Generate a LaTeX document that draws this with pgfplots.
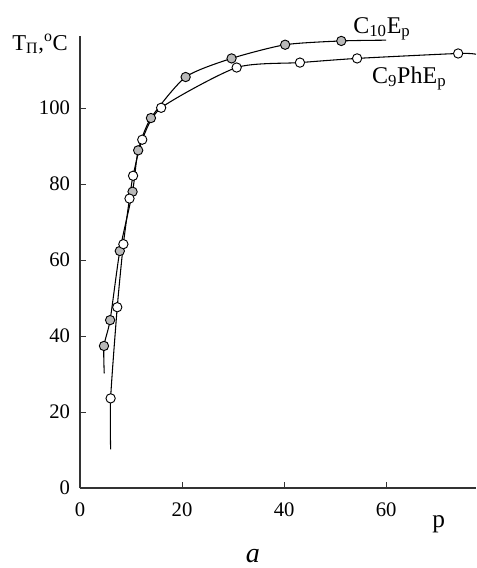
\documentclass[border=0pt]{standalone}
\usepackage{fontspec}
\setmainfont{Liberation Serif}
\usepackage{pgfplots}
\pgfplotsset{compat=1.18}
\definecolor{dotgray}{RGB}{185,185,185}

\begin{document}
\begin{tikzpicture}
\begin{axis}[
  name=ax,
  scale only axis,
  width=297pt, height=339pt,
  xmin=0, xmax=77.6, ymin=0, ymax=119,
  axis x line=bottom, axis y line=left,
  axis line style={-, line width=1.1pt, black!80},
  xtick={0,20,40,60}, ytick={0,20,40,60,80,100},
  tick align=inside, major tick length=4.5pt,
  tick style={line width=0.8pt, black!80},
  /pgf/number format/assume math mode=true,
  ticklabel style={font=\fontsize{15.5}{16}\selectfont},
  xticklabel style={yshift=-7.5pt},
  yticklabel style={xshift=-4pt},
  clip=false,
]
  % fitted curves
  \addplot[black, line width=0.8pt, smooth, tension=0.4] coordinates {
    (4.75,30.2) (4.7,37.4) (5.9,44.2) (7.8,62.4) (10.3,78.0) (11.4,88.9)
    (13.9,97.4) (20.7,108.2) (29.7,113.1) (40.2,116.7) (51.2,117.7) (60,117.9)};
  \addplot[black, line width=0.8pt, smooth, tension=0.4] coordinates {
    (6.0,10.2) (6.0,23.6) (7.3,47.6) (8.5,64.2) (9.7,76.2) (10.4,82.2)
    (12.2,91.7) (15.9,100.1) (30.7,110.7) (43.1,112.0) (54.3,113.1) (74.1,114.4) (77.6,114.2)};
  % C10Ep points
  \addplot[only marks, mark=*, mark size=3.5pt, mark options={fill=dotgray, draw=black, line width=0.7pt}] coordinates {
    (4.7,37.4) (5.9,44.2) (7.8,62.4) (10.3,78.0) (11.4,88.9)
    (13.9,97.4) (20.7,108.2) (29.7,113.1) (40.2,116.7) (51.2,117.7)};
  % C9PhEp points
  \addplot[only marks, mark=*, mark size=3.5pt, mark options={fill=white, draw=black, line width=0.7pt}] coordinates {
    (6.0,23.6) (7.3,47.6) (8.5,64.2) (9.7,76.2) (10.4,82.2)
    (12.2,91.7) (15.9,100.1) (30.7,110.7) (43.1,112.0) (54.3,113.1) (74.1,114.4)};

  \node[anchor=base west, inner sep=0pt, font=\fontsize{18}{20}\selectfont] at (axis cs:53.5,119.7) {C\textsubscript{10}E\textsubscript{p}};
  \node[anchor=base west, inner sep=0pt, font=\fontsize{18}{20}\selectfont] at (axis cs:57.2,106.6) {C\textsubscript{9}PhE\textsubscript{p}};
  \node[anchor=base east, inner sep=0pt, font=\fontsize{17}{19}\selectfont] at (axis cs:-2.35,115.3) {T\textsubscript{П},\textsuperscript{o}C};
  \node[anchor=base west, inner sep=0pt, font=\fontsize{19}{20}\selectfont] at (axis cs:69.0,-10.3) {p};
  \node[anchor=base, inner sep=0pt, font=\fontsize{21}{22}\selectfont\itshape] at (axis cs:33.9,-19.6) {a};
\end{axis}
\pgfresetboundingbox
\path ([xshift=-60pt,yshift=-60pt]ax.south west) rectangle ([yshift=27pt]ax.north east);
\end{tikzpicture}
\end{document}
